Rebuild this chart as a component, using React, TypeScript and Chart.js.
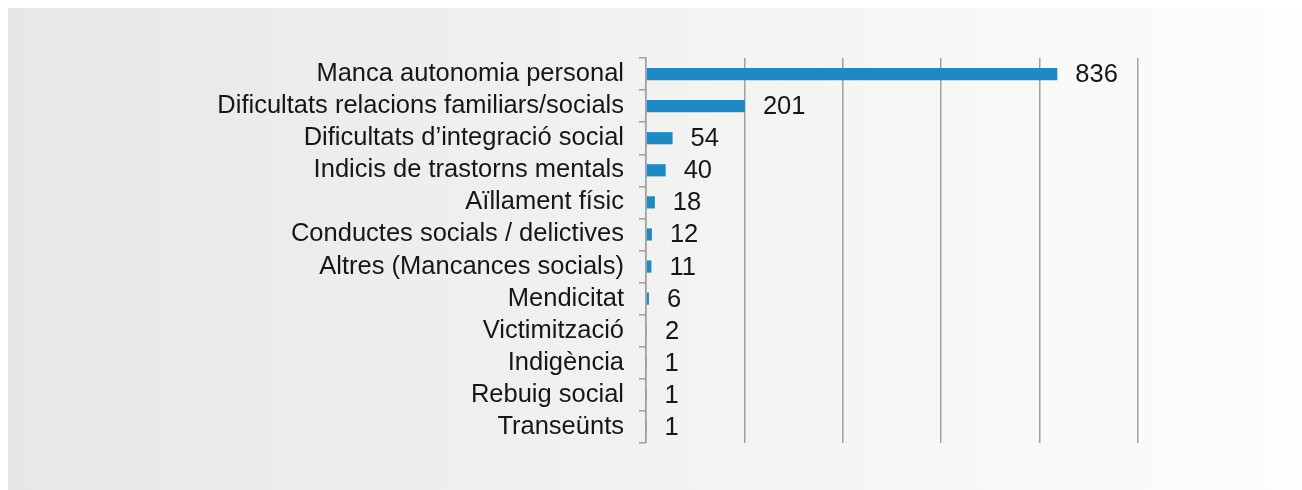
import React, { useEffect, useRef } from 'react';
import { Chart, registerables } from 'chart.js';

Chart.register(...registerables);

const categories = [
  'Manca autonomia personal',
  'Dificultats relacions familiars/socials',
  'Dificultats d\u2019integració social',
  'Indicis de trastorns mentals',
  'Aïllament físic',
  'Conductes socials / delictives',
  'Altres (Mancances socials)',
  'Mendicitat',
  'Victimització',
  'Indigència',
  'Rebuig social',
  'Transeünts',
];
const values = [836, 201, 54, 40, 18, 12, 11, 6, 2, 1, 1, 1];
const xMin = 0;
const xMax = 1000;
const xStep = 200;

const FONT_FAMILY = '"Liberation Sans", Arial, Helvetica, sans-serif';
const FONT_SIZE = 25.5;
const TEXT_COLOR = '#161616';
const GRID_COLOR = '#a0a0a0';
const BAR_COLOR = '#1f8ac2';

const valueLabels = {
  id: 'valueLabels',
  afterDatasetsDraw(chart: any) {
    const ctx = chart.ctx;
    const meta = chart.getDatasetMeta(0);
    ctx.save();
    ctx.font = `${FONT_SIZE}px ${FONT_FAMILY}`;
    ctx.fillStyle = TEXT_COLOR;
    ctx.textAlign = 'left';
    ctx.textBaseline = 'middle';
    meta.data.forEach((bar: any, i: number) => {
      ctx.fillText(String(values[i]), bar.x + 18, bar.y + 1);
    });
    ctx.restore();
  },
};

export default function App() {
  const canvasRef = useRef<HTMLCanvasElement | null>(null);

  useEffect(() => {
    if (!canvasRef.current) return;
    const chart = new Chart(canvasRef.current, {
      type: 'bar',
      data: {
        labels: categories,
        datasets: [
          {
            data: values,
            backgroundColor: BAR_COLOR,
            borderWidth: 0,
            categoryPercentage: 1,
            barPercentage: 0.38,
          },
        ],
      },
      options: {
        indexAxis: 'y',
        responsive: false,
        animation: false,
        layout: { padding: { left: 200, right: 164, top: 50, bottom: 47 } },
        plugins: {
          legend: { display: false },
          tooltip: { enabled: false },
          title: { display: false },
        },
        scales: {
          x: {
            min: xMin,
            max: xMax,
            ticks: { display: false, stepSize: xStep },
            grid: { color: GRID_COLOR, lineWidth: 1.5, drawTicks: false },
            border: { display: false },
            afterFit: (s: any) => {
              s.height = 0;
            },
          },
          y: {
            ticks: {
              color: TEXT_COLOR,
              font: { family: FONT_FAMILY, size: FONT_SIZE },
              padding: 15,
              autoSkip: false,
            },
            grid: {
              drawOnChartArea: false,
              tickLength: 7,
              color: GRID_COLOR,
              lineWidth: 1.5,
              offset: true,
            },
            border: { display: true, color: GRID_COLOR, width: 1.5 },
            afterFit: (s: any) => {
              s.width = 438;
            },
          },
        },
      },
      plugins: [valueLabels],
    });
    return () => chart.destroy();
  }, []);

  return (
    <div
      style={{
        position: 'fixed',
        left: 8,
        top: 8,
        right: 0,
        bottom: 0,
        background: 'linear-gradient(to right, #e7e7e7, #fdfdfd)',
      }}
    >
      <canvas ref={canvasRef} width={1294} height={482} style={{ display: 'block' }} />
    </div>
  );
}
